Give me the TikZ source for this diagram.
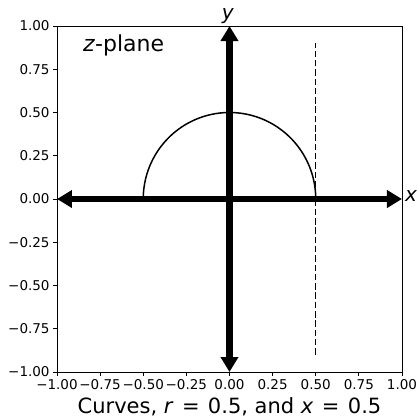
\documentclass[tikz,border=0pt]{standalone}
\usepackage{fontspec}
\setmainfont{DejaVu Sans}
\usepackage{tikz}
\usetikzlibrary{arrows.meta}

\begin{document}
\begin{tikzpicture}[x=172.5bp,y=173bp,
  spine/.style={line width=0.8bp,black},
  ticklbl/.style={inner sep=0pt,font=\fontsize{13.5bp}{15bp}\selectfont},
  bigarrow/.style={line width=6.5bp,{Triangle[length=15bp,width=17bp]}-{Triangle[length=15bp,width=17bp]}},
  curve/.style={line width=1.5bp,black}]
\useasboundingbox (-1.3304,-1.2601) rectangle (1.0928,1.1503);
\draw[spine](-1,-1)rectangle(1,1);
\foreach \v/\t in {-1/−1.00,-0.75/−0.75,-0.5/−0.50,-0.25/−0.25,0/0.00,0.25/0.25,0.5/0.50,0.75/0.75,1/1.00}{
  \draw[spine](\v,-1)--++(0,-3.5bp) node[ticklbl,anchor=north,yshift=-3.5bp]{\t};
  \draw[spine](-1,\v)--++(-3.5bp,0) node[ticklbl,anchor=east,xshift=-3.5bp]{\t};
}
%% curves
\draw[curve]plot[domain=0:180,samples=91]({0.5*cos(\x)},{0.5*sin(\x)});
\draw[curve,dash pattern=on 6.5bp off 2.8bp](0.5,-0.9)--(0.5,0.9);
%% axes
\draw[bigarrow](-1,0)--(1,0);
\draw[bigarrow](0,-1)--(0,1);
\node[inner sep=0pt,anchor=base,font=\fontsize{20bp}{24bp}\selectfont\itshape] (ylbl) at (-0.01,1.035) {y};
\node[inner sep=0pt,anchor=base west,font=\fontsize{20bp}{24bp}\selectfont\itshape] (xlbl) at (1.017,-0.017) {x};
\node[inner sep=0pt,anchor=base west,font=\fontsize{22bp}{26bp}\selectfont] (plane) at (-0.849,0.851) {\textit{z}-plane};
\node[inner sep=0pt,anchor=base,font=\fontsize{21bp}{25bp}\selectfont] (title) at (0,-1.237) {Curves, \textit{r}\hspace{0.4em}=\hspace{0.4em}0.5, and \textit{x}\hspace{0.4em}=\hspace{0.4em}0.5};
\end{tikzpicture}
\end{document}
